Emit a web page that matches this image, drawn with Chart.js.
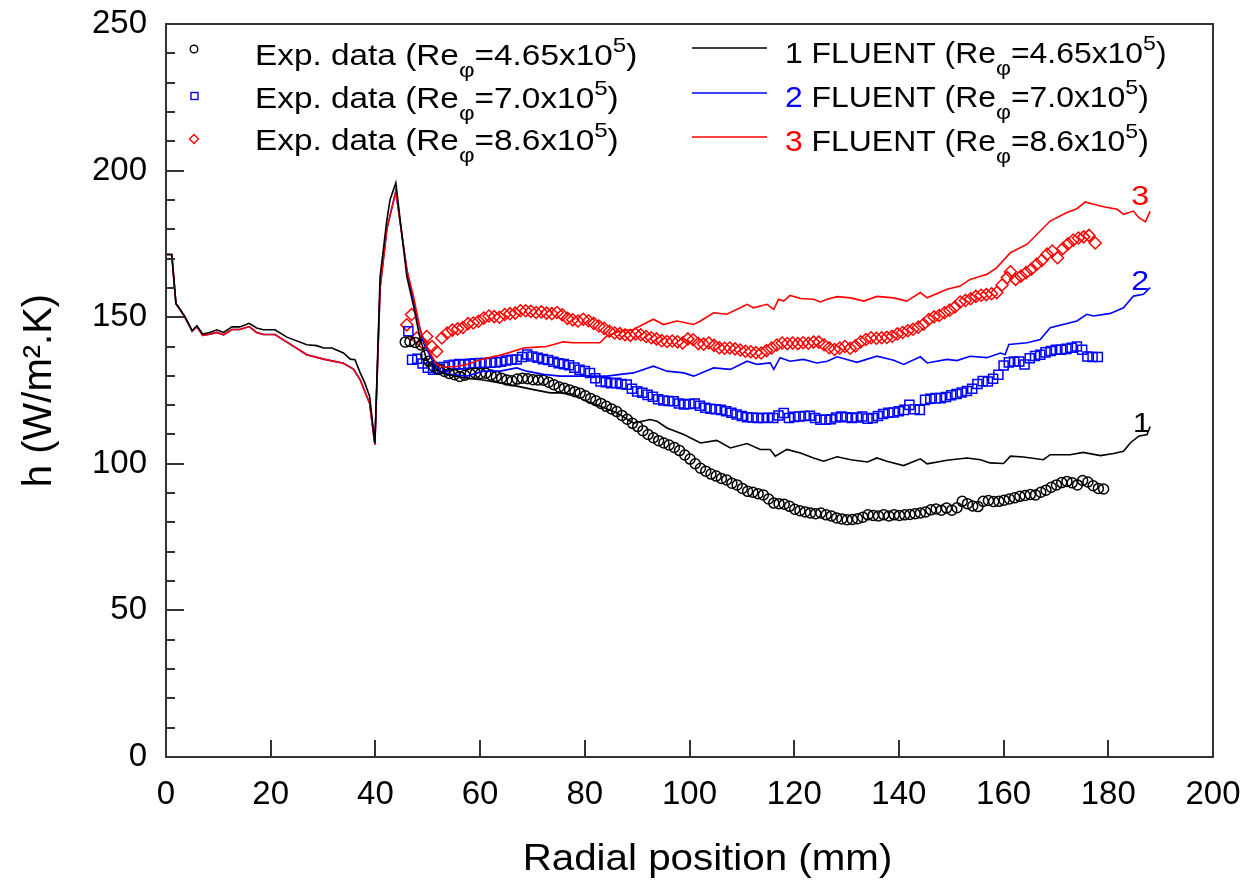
<!DOCTYPE html>
<html>
<head>
<meta charset="utf-8">
<title>h vs radial position</title>
<script src="https://cdn.jsdelivr.net/npm/chart.js@4.4.1/dist/chart.umd.min.js"></script>
<style>
  html, body { margin: 0; padding: 0; background: #fff; }
  #wrap { width: 1245px; height: 888px; }
</style>
</head>
<body>
<div id="wrap"><canvas id="hChart" width="1245" height="888"></canvas></div>
<script>
// ---------- data (radial position mm, h W/m2.K) ----------
const exp1 = [[45.7,141.5],[46.6,141.7],[47.6,141.4],[48.7,140.5],[49.6,137],[50.2,135],[51.1,133.3],[52.2,132.2],[53.2,131.5],[54.1,130.8],[55.1,130.4],[56.1,129.8],[57.1,130.2],[58.1,130.7],[59.1,130.9],[60.1,130.8],[61.1,130.9],[62.1,130.3],[63.1,129.8],[64.1,129.2],[65.1,128.6],[66.1,128.3],[67.1,128.9],[68.1,129.2],[69.1,129],[70.1,128.7],[71.1,128.6],[72.1,128.5],[73.1,127.8],[74.1,127],[75.1,126.2],[76.1,125.8],[77.1,125.2],[78.1,124.6],[79.1,124.1],[80.1,123.2],[81.1,122.3],[82.1,121.5],[83.1,120.6],[84.1,119.6],[85.1,118.7],[86.1,117.8],[87.1,116.5],[88.1,115.2],[89.1,113.8],[90.1,112.7],[91.1,111.3],[92.1,110],[93.1,108.9],[94.1,107.9],[95.1,107.1],[96.1,106.4],[97.1,105.6],[98.1,104.5],[99.1,103],[100.1,101.6],[101.1,100],[102.1,98.5],[103.1,97.5],[104.1,96.5],[105.1,95.8],[106.1,95],[107.1,94.5],[108.1,93.4],[109.1,92.8],[110.1,91.6],[111.1,90.6],[112.1,90.3],[113.1,89.8],[114.1,89.4],[115.1,88],[116.1,86.6],[117.1,86.4],[118.1,86.2],[119.1,85.5],[120.1,84.5],[121.1,84],[122.1,83.6],[123.1,83.2],[124.1,83],[125.1,83.2],[126.1,82.6],[127.1,82.2],[128.1,81.5],[129.1,81.2],[130.1,80.9],[131.1,81],[132.1,81.3],[133.1,81.8],[134.1,82.6],[135.1,82.4],[136.1,82.2],[137.1,82.6],[138.1,82.2],[139.1,82.6],[140.1,82.4],[141.1,82.6],[142.1,82.7],[143.1,83],[144.1,83.2],[145.1,83.6],[146.1,84.3],[147.1,84.6],[148.1,84.2],[149.1,84.9],[150.1,84.2],[151.1,85],[152.1,87.2],[153.1,86.4],[154.1,85.6],[155.1,85.4],[156.1,87.2],[157.1,87.5],[158.1,87.1],[159.1,87.2],[160.1,87.6],[161.1,88],[162.1,88.4],[163.1,88.9],[164.1,89.2],[165.1,89.5],[166.1,89.4],[167.1,90.3],[168.1,91],[169.1,92],[170.1,92.8],[171.1,93.6],[172.1,94],[173.1,93.5],[174.1,92.8],[175.1,94.3],[176.1,93.8],[177.1,92.5],[178.1,91.6],[179.1,91.4]];

const exp2 = [[46.3,145.2],[47.0,135.5],[48.0,135.8],[49.0,134.2],[50.0,132.8],[51.0,132.1],[52.0,132.4],[53.0,133],[54.0,133.5],[55.0,133.8],[56.0,134],[57.0,133.9],[58.0,134.1],[59.0,134.3],[60.0,134.4],[61.0,134.4],[62.0,134.5],[63.0,134.6],[64.0,134.8],[65.0,135.2],[66.0,135.5],[67.0,135.6],[68.0,136.4],[69.0,137.3],[70.0,136.6],[71.0,136.2],[72.0,135.7],[73.0,135.4],[74.0,134.8],[75.0,134.3],[76.0,134],[77.0,133.6],[78.0,132.8],[79.0,132.1],[80.0,131.6],[81.0,131],[82.0,129.2],[83.0,128.1],[84.0,127.8],[85.0,127.5],[86.0,127.6],[87.0,127.2],[88.0,127],[89.0,125.6],[90.0,124.7],[91.0,124.2],[92.0,123.5],[93.0,122.9],[94.0,122],[95.0,121.6],[96.0,121.4],[97.0,121.3],[98.0,120.6],[99.0,120.2],[100.0,120.4],[101.0,120.6],[102.0,119.8],[103.0,119.1],[104.0,118.8],[105.0,118.6],[106.0,118.4],[107.0,117.9],[108.0,117.4],[109.0,116.8],[110.0,116.3],[111.0,115.9],[112.0,115.8],[113.0,115.6],[114.0,115.6],[115.0,115.7],[116.0,115.6],[117.0,116.5],[118.0,117.3],[119.0,115.6],[120.0,116],[121.0,116.1],[122.0,116.3],[123.0,116.4],[124.0,115.6],[125.0,115],[126.0,115],[127.0,115.2],[128.0,115.8],[129.0,116.1],[130.0,115.9],[131.0,115.6],[132.0,115.8],[133.0,116.1],[134.0,115.4],[135.0,115.6],[136.0,116.3],[137.0,117],[138.0,117.4],[139.0,117.5],[140.0,117.9],[141.0,118.4],[142.0,120.1],[143.0,118.6],[144.0,118.4],[145.0,121.8],[146.0,122.2],[147.0,122.4],[148.0,122.4],[149.0,122.8],[150.0,123.4],[151.0,123.8],[152.0,124.3],[153.0,124.8],[154.0,125.6],[155.0,127.2],[156.0,128.2],[157.0,128.1],[158.0,129],[159.0,130.4],[160.0,133.5],[161.0,134.6],[162.0,134.9],[163.0,134.9],[164.0,133.9],[165.0,136],[166.0,136.8],[167.0,137.2],[168.0,138],[169.0,138.5],[170.0,138.9],[171.0,138.9],[172.0,139.2],[173.0,139.6],[174.0,140],[175.0,138.9],[176.0,136.6],[177.0,136.4],[178.0,136.4]];

const exp3 = [[46.0,147.4],[46.9,150.9],[47.9,142.9],[49.0,141.2],[49.8,143.4],[50.8,140],[51.7,138.3],[52.7,142.9],[53.7,144.6],[54.7,145.6],[55.7,146],[56.7,146.5],[57.7,147.8],[58.7,148],[59.7,148.6],[60.7,149.7],[61.7,150.4],[62.7,150.2],[63.7,150],[64.7,150.9],[65.7,151.2],[66.7,151.4],[67.7,152.2],[68.7,152.2],[69.7,152],[70.7,151.6],[71.7,151.8],[72.7,151.4],[73.7,151.2],[74.7,151.6],[75.7,150.8],[76.7,149.6],[77.7,149.1],[78.7,148.7],[79.7,149.3],[80.7,148.8],[81.7,147.9],[82.7,147],[83.7,146.2],[84.7,145.2],[85.7,144.6],[86.7,144.4],[87.7,144],[88.7,143.8],[89.7,144.3],[90.7,144],[91.7,143.4],[92.7,143],[93.7,142.6],[94.7,142],[95.7,141.7],[96.7,141.9],[97.7,141.6],[98.7,141.2],[99.7,142.6],[100.7,142.3],[101.7,141],[102.7,140.8],[103.7,141.2],[104.7,140.4],[105.7,139.6],[106.7,139.4],[107.7,139.5],[108.7,139.2],[109.7,138.8],[110.7,138.4],[111.7,138.2],[112.7,137.9],[113.7,137.8],[114.7,138.6],[115.7,139.5],[116.7,140.5],[117.7,141.2],[118.7,141],[119.7,141.2],[120.7,141],[121.7,141.3],[122.7,141.1],[123.7,141.5],[124.7,141.5],[125.7,140.6],[126.7,139.6],[127.7,139],[128.7,139.5],[129.7,140],[130.7,139.4],[131.7,140.2],[132.7,141.6],[133.7,142.4],[134.7,143],[135.7,142.8],[136.7,143],[137.7,143.1],[138.7,143.5],[139.7,144.3],[140.7,144.8],[141.7,145.4],[142.7,145.9],[143.7,146.6],[144.7,147.6],[145.7,149.2],[146.7,150.1],[147.7,150.6],[148.7,151.5],[149.7,152.4],[150.7,153.5],[151.7,155.2],[152.7,155.7],[153.7,156.3],[154.7,157.1],[155.7,157.5],[156.7,157.7],[157.7,158],[158.7,158.4],[159.7,161],[160.7,163.5],[161.3,165.5],[162.3,162.9],[163.3,164],[164.3,165.2],[165.3,166.4],[166.3,168],[167.3,169.4],[168.3,171.5],[169.3,172.6],[170.3,170.3],[171.3,173.4],[172.3,175],[173.3,176.3],[174.3,177],[175.3,177.4],[176.3,177.9],[177.5,175.3]];

// FLUENT curves
const cfd1 = [[0.1,171.4],[1.1,171.4],[1.9,154.6],[2.7,152.6],[3.6,150.3],[5.0,145.4],[5.9,147.1],[7.0,144.3],[8.4,144.8],[9.7,145.7],[11.0,144.8],[12.6,146.7],[14.1,146.7],[15.9,147.9],[17.3,146.3],[18.6,145.7],[20.8,145.7],[23.1,143.2],[26.9,140.6],[28.8,140.3],[30.1,139.5],[31.7,139.5],[33.9,137.8],[35.2,135.7],[36.1,135.5],[37.1,131],[38.0,127.5],[38.9,123],[39.9,107.1],[40.9,163.9],[42.2,183.3],[42.8,190.1],[43.9,195.8],[46.0,163.9],[47.3,153.7],[48.5,143],[49.8,135.5],[51.7,132.1],[53.6,130.5],[55.5,129.8],[57.5,129.2],[60.6,128.6],[63.8,127.6],[67,126.5],[70.2,125.3],[73.4,124.2],[75.3,124.2],[77.8,123.6],[80.4,121.3],[82.9,119.6],[86.1,117.4],[89.3,113.9],[92.5,115.1],[93.8,114.5],[95.7,112.2],[98.9,110],[102.1,107.1],[105.2,108],[107.8,105.4],[111,106.9],[113.5,104.9],[115.4,104.9],[116.4,102.6],[118.6,104.9],[121.2,103.7],[123.7,102],[125.6,100.9],[128.2,102.4],[130.8,101.4],[134,100.6],[135.8,102],[137.7,100.9],[140.9,99.4],[144.1,101.7],[145.4,100],[149.2,101.2],[153,102],[155.6,101.4],[157.4,100.3],[160,100.1],[161.3,102.6],[163.8,102.3],[167.6,101.4],[168.9,103.1],[172.7,103.1],[175.2,103.9],[178.5,102.8],[181,103.5],[182.9,104.3],[184.2,107.1],[185.8,109.4],[187.4,110],[188,112.7]];

const cfd2 = [[0.1,171.4],[1.1,171.4],[1.9,154.6],[2.7,152.6],[3.6,150],[5.0,145.2],[5.9,146.8],[7.0,143.8],[8.4,144.2],[9.7,144.8],[11.0,144],[12.6,145.8],[14.1,145.8],[15.9,146.8],[17.3,144.8],[18.6,144.1],[20.8,144.1],[23.1,141.5],[26.9,137.2],[30.1,135.7],[33.9,134.3],[35.8,132.3],[37.1,128.6],[38.9,120.6],[39.9,106.5],[40.9,160],[42.2,180.2],[43.9,192.9],[46.0,166.2],[47.3,155],[49.2,141.2],[51.1,134.4],[52.4,131.5],[54.3,130.5],[57.5,129.9],[60.6,131.6],[63.8,131.6],[67,132.7],[68.9,131.6],[72.1,130.5],[75.3,129.9],[77.8,129.9],[81.7,129.9],[84.2,129.9],[86.8,130.5],[89.3,131],[93.1,133.3],[95.7,131.6],[98.9,131],[100.8,129.9],[104.6,132.7],[107.8,132.2],[111,135],[112.9,133.9],[115.4,134.4],[116.1,132.2],[117.3,136.2],[119.2,135],[121.8,135.6],[124.3,134.4],[126.3,135],[128.2,136.5],[132,134.6],[135.8,136.7],[139,135.3],[140.9,133.9],[144.1,136.5],[145.4,134.4],[149.2,135.6],[151.1,135.2],[153.6,136.7],[156.8,136.2],[159.4,137.8],[160.3,137.3],[161,140.7],[164.5,141.3],[167,142.4],[168.9,146.4],[174,148.7],[175.9,151],[177.2,150.4],[180.4,151.3],[182.9,153.2],[184.8,157.2],[186.7,157.8],[188,160.1]];

const cfd3 = [[0.1,171.4],[1.1,171.4],[1.9,154.6],[2.7,152.6],[3.6,150],[5.0,145.2],[5.9,146.8],[7.0,143.8],[8.4,144.2],[9.7,144.8],[11.0,144],[12.6,145.8],[14.1,145.8],[15.9,146.8],[17.3,144.8],[18.6,144.1],[20.8,144.1],[23.1,141.5],[26.9,137.2],[30.1,135.7],[33.9,134.3],[35.8,132.3],[37.1,128.6],[38.9,120.6],[39.9,106.5],[40.9,160],[42.2,180.2],[43.9,192.9],[46.0,166.2],[47.3,157],[48.5,146],[49.8,140],[51.7,133.8],[53,133],[55.5,133.2],[57.5,133.9],[60,135.5],[63.2,136.8],[65.7,138],[68.3,139.5],[70.8,139.8],[72.7,140],[75.9,141.6],[77.8,141.3],[82.9,141.3],[84.2,143.6],[86.8,145.3],[89.3,145.8],[93.1,149.3],[95,147.5],[97.6,148.7],[100.8,147.5],[102.1,148.7],[104.6,151.5],[107.1,151],[109.7,153.2],[111,154.4],[112.2,153.2],[114.8,154.4],[116.1,152.7],[117,156.1],[118,155.5],[119.2,157.4],[121.2,156.4],[123.7,156.1],[125,155.2],[126.3,156.1],[128.2,157],[130.8,156.6],[133.3,155.5],[135.8,157.1],[139,156.6],[141.5,155.5],[144.1,158.4],[145.4,156.6],[149.2,159.5],[151.7,160.6],[153.6,162.9],[155.6,164],[156.8,164.6],[158.7,166.9],[161.3,172],[164.5,174.9],[168.9,182.8],[172.1,185.7],[174,187],[175.6,189.3],[177.2,188.5],[179.1,187.7],[181.7,186.8],[182.9,185.1],[184.8,186.2],[185.8,184],[187.1,182.5],[188,186.2]];

// Re_phi values for legend, and the curve numbers written near the line ends
const reValues = ['4.65', '7.0', '8.6'];
const curveTags = [
    {text: '1', x: 186.4, h: 113.5, color: '#000000'},
    {text: '2', x: 186.1, h: 161.8, color: '#0000ff'},
    {text: '3', x: 186.1, h: 190.8, color: '#ff0000'}
];

const xTicks = {min: 0, max: 200, step: 20};
const yTicks = {min: 0, max: 250, step: 50, minor: 10};

// ---------- styling ----------
const FONT = "'Liberation Sans', Arial, Helvetica, sans-serif";
const STRETCH = 1.15; // text in the picture is a bit wide
const colors = ['#000000', '#0000ff', '#ff0000'];
const AXIS = '#333333';

const toXY = (arr) => arr.map(p => ({x: p[0], y: p[1]}));

// draws "Re_phi = ... x10^5" style text
function richText(ctx, x, y, parts, size, stretch) {
    ctx.save();
    ctx.translate(x, y);
    ctx.scale(stretch, 1);
    ctx.textBaseline = 'alphabetic';
    ctx.textAlign = 'left';
    let cx = 0;
    for (const p of parts) {
        const fs = (p.sub || p.sup) ? Math.round(size * 0.72) : size;
        ctx.font = fs + 'px ' + FONT;
        ctx.fillStyle = p.color || '#000';
        const dy = p.sub ? size * 0.43 : (p.sup ? -size * 0.45 : 0);
        ctx.fillText(p.t, cx, dy);
        cx += ctx.measureText(p.t).width;
    }
    ctx.restore();
}

function reParts(val) {
    return [{t: '(Re'}, {t: 'φ', sub: true}, {t: '=' + val + 'x10'}, {t: '5', sup: true}, {t: ')'}];
}

const decorPlugin = {
    id: 'decor',
    afterDraw(chart) {
        const ctx = chart.ctx;
        const a = chart.chartArea;
        const xs = chart.scales.x, ys = chart.scales.y;
        ctx.save();
        // frame
        ctx.strokeStyle = AXIS;
        ctx.lineWidth = 2;
        ctx.strokeRect(a.left, a.top, a.right - a.left, a.bottom - a.top);
        // inward ticks
        ctx.beginPath();
        for (let v = xTicks.min + xTicks.step; v < xTicks.max; v += xTicks.step) {
            const px = Math.round(xs.getPixelForValue(v));
            ctx.moveTo(px, a.bottom);
            ctx.lineTo(px, a.bottom - 17);
        }
        for (let v = yTicks.min; v < yTicks.max; v += yTicks.minor) {
            const py = Math.round(ys.getPixelForValue(v));
            const len = (v % yTicks.step === 0) ? 18 : 9;
            ctx.moveTo(a.left, py);
            ctx.lineTo(a.left + len, py);
        }
        ctx.stroke();

        // x axis title
        ctx.save();
        ctx.translate((a.left + a.right) / 2 + 18, 870);
        ctx.scale(1.12, 1);
        ctx.font = '36px ' + FONT;
        ctx.fillStyle = '#000';
        ctx.textAlign = 'center';
        ctx.textBaseline = 'alphabetic';
        ctx.fillText('Radial position (mm)', 0, 0);
        ctx.restore();

        // curve numbers
        for (const c of curveTags) {
            ctx.save();
            ctx.translate(xs.getPixelForValue(c.x), ys.getPixelForValue(c.h));
            ctx.scale(STRETCH, 1);
            ctx.font = '28px ' + FONT;
            ctx.fillStyle = c.color;
            ctx.textAlign = 'center';
            ctx.textBaseline = 'middle';
            ctx.fillText(c.text, 0, 0);
            ctx.restore();
        }

        // legend, left column: markers
        const markY = [49, 96, 139];
        const textY = [65, 108, 150];
        ctx.lineWidth = 1.4;
        ctx.strokeStyle = colors[0];
        ctx.beginPath(); ctx.arc(194, markY[0], 3.8, 0, Math.PI * 2); ctx.stroke();
        ctx.strokeStyle = colors[1];
        ctx.strokeRect(191, markY[1] - 3.5, 7, 7);
        ctx.strokeStyle = colors[2];
        ctx.beginPath();
        ctx.moveTo(194, markY[2] - 4.5); ctx.lineTo(198.5, markY[2]);
        ctx.lineTo(194, markY[2] + 4.5); ctx.lineTo(189.5, markY[2]);
        ctx.closePath(); ctx.stroke();
        reValues.forEach((val, i) => {
            richText(ctx, 255, textY[i], [{t: 'Exp. data '}].concat(reParts(val)), 29, STRETCH);
        });

        // legend, right column: lines
        const lineY = [48, 93, 137];
        const textY2 = [63, 107, 151];
        ctx.lineWidth = 1.5;
        reValues.forEach((val, i) => {
            ctx.strokeStyle = colors[i];
            ctx.beginPath();
            ctx.moveTo(692, lineY[i]);
            ctx.lineTo(767, lineY[i]);
            ctx.stroke();
            richText(ctx, 785, textY2[i],
                [{t: String(i + 1), color: colors[i]}, {t: ' FLUENT '}].concat(reParts(val)), 29, 1.1);
        });
        ctx.restore();
    }
};

// higher order is drawn first: markers, then blue, red, black on top
const markerSet = (data, style, color, radius) => ({
    data: toXY(data),
    showLine: false,
    pointStyle: style,
    pointRadius: radius,
    pointBorderWidth: 1.5,
    borderColor: color,
    backgroundColor: 'rgba(0,0,0,0)',
    order: 4
});

const lineSet = (data, color, order) => ({
    data: toXY(data),
    showLine: true,
    pointRadius: 0,
    borderColor: color,
    borderWidth: 1.6,
    tension: 0,
    fill: false,
    order: order
});

const tickFont = {family: FONT, size: 33};

const chart = new Chart(document.getElementById('hChart').getContext('2d'), {
    type: 'scatter',
    data: {
        datasets: [
            lineSet(cfd1, colors[0], 1),
            lineSet(cfd2, colors[1], 3),
            lineSet(cfd3, colors[2], 2),
            markerSet(exp1, 'circle', colors[0], 5),
            markerSet(exp2, 'rect', colors[1], 6.4),
            markerSet(exp3, 'rectRot', colors[2], 6)
        ]
    },
    options: {
        responsive: false,
        animation: false,
        devicePixelRatio: 1,
        layout: {padding: {top: 24, right: 32, left: 0, bottom: 0}},
        plugins: {legend: {display: false}, tooltip: {enabled: false}},
        scales: {
            x: {
                type: 'linear', min: xTicks.min, max: xTicks.max,
                ticks: {stepSize: xTicks.step, color: '#000', font: tickFont, padding: 18, maxRotation: 0},
                grid: {display: false, drawTicks: false},
                border: {display: false},
                afterFit: (s) => { s.height = 131; s.paddingLeft = 0; s.paddingRight = 0; }
            },
            y: {
                type: 'linear', min: yTicks.min, max: yTicks.max,
                ticks: {stepSize: yTicks.step, color: '#000', font: tickFont, padding: 19},
                grid: {display: false, drawTicks: false},
                border: {display: false},
                title: {display: true, text: 'h (W/m².K)', color: '#000',
                    font: {family: FONT, size: 40}, padding: {top: 16, bottom: 0}},
                afterFit: (s) => { s.width = 166; s.paddingTop = 0; s.paddingBottom = 0; }
            }
        }
    },
    plugins: [decorPlugin]
});
</script>
</body>
</html>
